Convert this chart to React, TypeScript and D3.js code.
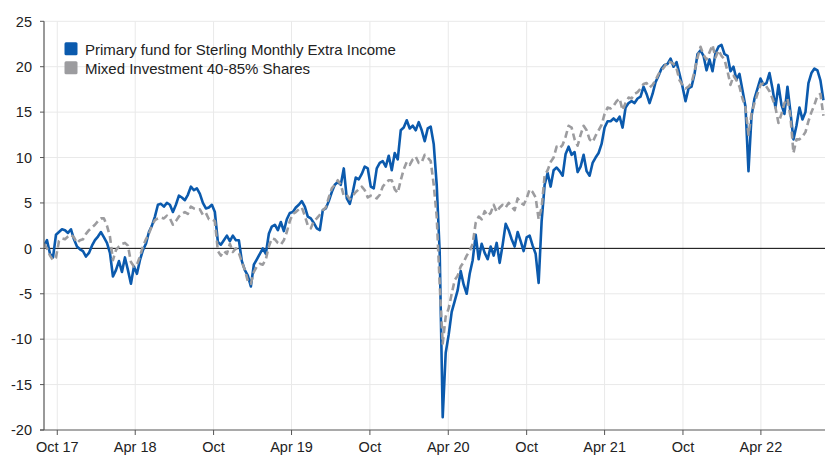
import React, { useEffect, useRef } from 'react';
import * as d3 from 'd3';

const startDate = '2017-08-31';
const endDate = '2022-08-31';

const seriesNames = [
  'Primary fund for Sterling Monthly Extra Income',
  'Mixed Investment 40-85% Shares',
];

// weekly observations (cumulative % performance)
const fundValues = [
  0.3, 0.9, -0.6, -1.0, 1.5, 1.8, 2.1, 2.0, 1.7, 2.1,
  1.0, 0.2, -0.1, -0.3, -0.9, -0.5, 0.3, 0.9, 1.3, 1.8,
  1.2, 0.6, -0.5, -3.1, -2.4, -1.4, -2.6, -1.0, -2.4, -3.9,
  -2.0, -2.8, -1.3, -0.2, 0.5, 1.8, 2.5, 3.5, 4.8, 4.9,
  4.6, 5.0, 4.8, 4.0, 4.8, 5.8, 5.6, 5.3, 5.9, 6.8,
  6.4, 6.6, 6.0, 5.0, 4.4, 4.5, 4.8, 4.0, 0.7, 0.4,
  0.9, 1.4, 0.8, 1.4, 0.9, 0.9, -1.4, -2.4, -3.0, -4.2,
  -1.8, -1.2, -0.6, 0.0, -0.6, 1.6, 2.4, 2.6, 2.0, 2.9,
  1.9, 3.2, 3.9, 4.0, 4.5, 4.8, 5.2, 4.6, 3.5, 3.3,
  2.8, 2.2, 2.0, 4.2, 4.4, 5.2, 6.2, 7.0, 7.3, 7.0,
  8.8, 5.5, 4.9, 6.2, 7.8, 7.6, 8.2, 9.0, 8.8, 6.8,
  6.6, 8.8, 9.4, 9.6, 9.0, 10.2, 8.6, 10.5, 9.8, 13.0,
  13.3, 14.1, 13.2, 13.5, 13.0, 13.9, 13.0, 11.8, 13.2, 13.4,
  11.5, 7.0, -0.5, -18.6, -11.5, -9.5, -7.0, -5.8, -4.6, -2.5,
  -4.0, -5.0, -2.8, -1.3, 1.5, -1.2, 0.5, -0.5, -1.2, 0.2,
  -0.8, 0.6, -1.6, 0.4, 2.7, 2.0, 1.0, 0.2, 1.8, 0.8,
  -0.3, 1.2, 1.4, 0.3, -0.6, -3.8, 3.0, 7.0, 8.3, 6.8,
  8.6, 8.9, 8.5, 8.0, 10.4, 11.2, 10.3, 10.6, 8.4, 9.0,
  10.3, 8.5, 8.0, 9.4, 10.0, 10.5, 11.5, 13.3, 14.0, 14.0,
  14.3, 14.0, 14.5, 13.3, 15.5, 16.0, 16.2, 16.0, 16.5, 16.7,
  17.8, 17.0, 16.0, 17.0, 18.3, 19.0, 19.8, 20.2, 20.3, 20.9,
  20.0, 20.5, 19.2, 17.8, 16.2, 17.6, 17.8, 19.2, 21.4, 21.8,
  21.2, 19.6, 20.8, 19.5, 21.5, 22.2, 22.4, 21.4, 21.2, 19.5,
  20.0, 18.6, 19.2, 17.4, 15.6, 8.5, 14.5, 16.5, 17.6, 18.7,
  18.0, 18.2, 19.3, 17.6, 15.5, 18.0, 15.8, 14.8, 17.8, 15.0,
  12.0, 13.5, 15.5, 14.2, 15.0, 18.2, 19.3, 19.8, 19.6, 18.5, 16.3,
];

const sectorValues = [
  0.5, 0.0, -0.8, -1.3, -1.0, 0.8, 1.1, 1.0, 1.3, 1.5,
  1.2, 0.6, 0.9, 1.0, 1.6, 2.0, 2.3, 2.6, 3.0, 3.3,
  3.3, 2.5, 1.3, -1.3, -0.2, 0.2, 0.5, 0.6, 0.3, -1.5,
  -2.0, -1.8, -0.9, 0.2, 1.0, 1.6, 2.5, 3.1, 3.3, 3.4,
  3.3, 3.6, 3.3, 2.6, 3.0, 3.5, 3.8, 4.0, 3.8, 4.6,
  4.4, 4.3, 4.3, 3.7, 3.9, 3.2, 3.2, 3.0, -0.3, -0.8,
  -0.3, -0.6, 0.5, -0.4, 0.0, -0.5, -1.5, -2.4, -3.6, -3.9,
  -2.6, -2.0, -1.7, -1.8, -1.2, 0.2, 1.1, 1.0, 0.6, 0.4,
  0.9, 1.8, 3.0, 3.8, 4.0, 4.3, 4.5, 3.6, 2.5, 2.2,
  3.0, 3.3, 3.7, 4.2, 4.5, 5.6, 6.6, 7.0, 7.5, 7.0,
  5.8, 5.9, 5.4, 5.8, 6.2, 6.5, 6.8, 6.4, 5.6, 5.8,
  5.7, 5.5, 5.9, 6.8, 7.2, 7.5, 7.5, 6.5, 6.1, 7.5,
  8.7, 9.5, 9.2, 9.8, 10.1, 9.4, 9.5, 10.3, 10.0, 9.6,
  7.0, 3.5, -4.0, -10.5, -7.5, -6.6, -5.0, -3.5, -3.0, -2.0,
  -1.5, -0.8, -0.3, 0.5, 2.8, 3.5, 3.2, 4.1, 3.6, 3.9,
  4.8, 4.0, 4.5, 4.8, 4.5, 5.0, 4.6, 4.2, 5.5, 5.0,
  4.8, 5.5, 6.5, 6.2, 5.6, 3.2, 4.5, 8.0, 8.6, 9.5,
  10.0, 11.2, 11.0, 11.4, 12.3, 13.5, 13.3, 12.0, 11.3, 12.5,
  13.5, 13.0, 12.0, 11.7, 12.4, 13.0, 13.6, 14.8, 15.5, 15.4,
  15.7, 16.2, 16.5, 15.2, 16.0, 16.6, 16.5, 17.0, 17.2, 17.6,
  18.1, 18.2, 17.7, 18.0, 18.5, 19.2, 19.6, 20.0, 20.6, 20.5,
  20.3, 19.8, 18.5, 18.0, 17.6, 17.8, 18.2, 19.5, 21.0, 22.2,
  21.3, 20.8, 21.6, 22.4, 21.0, 21.8, 21.2, 20.8, 19.5, 18.0,
  19.0, 18.5, 17.8, 16.5, 15.5, 12.5, 14.8, 16.0, 17.0, 18.0,
  18.2, 17.8, 17.3, 16.5, 15.5, 13.8, 14.8, 16.0, 16.5, 14.5,
  10.5, 12.0, 12.0, 12.3, 12.8, 14.0, 15.0, 15.8, 16.8, 17.0, 14.6,
];

const xTickDates = [
  '2017-10-01', '2018-04-01', '2018-10-01', '2019-04-01', '2019-10-01',
  '2020-04-01', '2020-10-01', '2021-04-01', '2021-10-01', '2022-04-01',
];
const xTickLabels = ['Oct 17', 'Apr 18', 'Oct', 'Apr 19', 'Oct', 'Apr 20', 'Oct', 'Apr 21', 'Oct', 'Apr 22'];
const yTicks = [-20, -15, -10, -5, 0, 5, 10, 15, 20, 25];

const W = 825;
const H = 455;

export default function App() {
  const ref = useRef<SVGSVGElement>(null);

  useEffect(() => {
    const svg = d3.select(ref.current);
    svg.selectAll('*').remove();
    const parse = d3.timeParse('%Y-%m-%d');
    const start = parse(startDate) as Date;
    const end = parse(endDate) as Date;
    const left = 44, right = 826, top = 21.3, bottom = 430;

    const x = d3.scaleTime().domain([start, end]).range([left, right]);
    const y = d3.scaleLinear().domain([-20, 25]).range([bottom, top]);

    const dates = fundValues.map((_, i) => d3.timeDay.offset(start, 7 * i));
    const font = '"Liberation Sans", Arial, sans-serif';

    // grid
    const g = svg.append('g');
    g.selectAll('line.hg')
      .data(yTicks.filter((t) => t !== 0 && t !== -20))
      .join('line')
      .attr('x1', left).attr('x2', W)
      .attr('y1', (d) => y(d)).attr('y2', (d) => y(d))
      .attr('stroke', '#e9e9e9').attr('stroke-width', 1);
    g.selectAll('line.vg')
      .data(xTickDates)
      .join('line')
      .attr('x1', (d) => x(parse(d) as Date)).attr('x2', (d) => x(parse(d) as Date))
      .attr('y1', top).attr('y2', bottom)
      .attr('stroke', '#e9e9e9').attr('stroke-width', 1);

    // zero line
    svg.append('line')
      .attr('x1', left).attr('x2', W)
      .attr('y1', y(0)).attr('y2', y(0))
      .attr('stroke', '#000').attr('stroke-width', 1);

    // lines
    const clipId = 'plotclip';
    svg.append('clipPath').attr('id', clipId)
      .append('rect').attr('x', left).attr('y', 0).attr('width', W - left).attr('height', bottom);

    const line = d3.line<number>()
      .x((_, i) => x(dates[i]))
      .y((d) => y(d));

    svg.append('path')
      .attr('clip-path', `url(#${clipId})`)
      .attr('d', line(fundValues) as string)
      .attr('fill', 'none')
      .attr('stroke', '#0b5aad')
      .attr('stroke-width', 2.6)
      .attr('stroke-linejoin', 'round');

    svg.append('path')
      .attr('clip-path', `url(#${clipId})`)
      .attr('d', line(sectorValues) as string)
      .attr('fill', 'none')
      .attr('stroke', '#9c9c9f')
      .attr('stroke-width', 2.6)
      .attr('stroke-dasharray', '7,4')
      .attr('stroke-linejoin', 'round');

    // axes
    const axisColor = '#555';
    svg.append('line')
      .attr('x1', left).attr('x2', left).attr('y1', top).attr('y2', bottom)
      .attr('stroke', axisColor).attr('stroke-width', 1.2);
    svg.append('line')
      .attr('x1', left - 4).attr('x2', W).attr('y1', bottom).attr('y2', bottom)
      .attr('stroke', axisColor).attr('stroke-width', 1.2);

    svg.selectAll('line.yt')
      .data(yTicks)
      .join('line')
      .attr('x1', left - 4).attr('x2', left)
      .attr('y1', (d) => y(d)).attr('y2', (d) => y(d))
      .attr('stroke', axisColor);
    svg.selectAll('text.yl')
      .data(yTicks)
      .join('text')
      .attr('x', left - 12)
      .attr('y', (d) => y(d) + 5.3)
      .attr('text-anchor', 'end')
      .attr('font-family', font)
      .attr('font-size', 14.5)
      .attr('fill', '#222')
      .text((d) => String(d));

    svg.selectAll('line.xt')
      .data(xTickDates)
      .join('line')
      .attr('x1', (d) => x(parse(d) as Date)).attr('x2', (d) => x(parse(d) as Date))
      .attr('y1', bottom).attr('y2', bottom + 5)
      .attr('stroke', axisColor);
    svg.selectAll('text.xl')
      .data(xTickDates)
      .join('text')
      .attr('x', (d) => x(parse(d) as Date))
      .attr('y', bottom + 22)
      .attr('text-anchor', 'middle')
      .attr('font-family', font)
      .attr('font-size', 14.5)
      .attr('fill', '#222')
      .text((_, i) => xTickLabels[i]);

    // legend
    const colors = ['#0b5aad', '#9c9c9f'];
    const lg = svg.append('g');
    seriesNames.forEach((name, i) => {
      lg.append('rect')
        .attr('x', 64.5).attr('y', 42.3 + i * 19)
        .attr('width', 13).attr('height', 13).attr('rx', 1.5)
        .attr('fill', colors[i]);
      lg.append('text')
        .attr('x', 85).attr('y', 54.6 + i * 19)
        .attr('font-family', font)
        .attr('font-size', 15)
        .attr('fill', '#222')
        .text(name);
    });
  }, []);

  return (
    <svg
      ref={ref}
      width={W}
      height={H}
      style={{ position: 'absolute', left: 0, top: 0, display: 'block', background: '#fff' }}
    />
  );
}
